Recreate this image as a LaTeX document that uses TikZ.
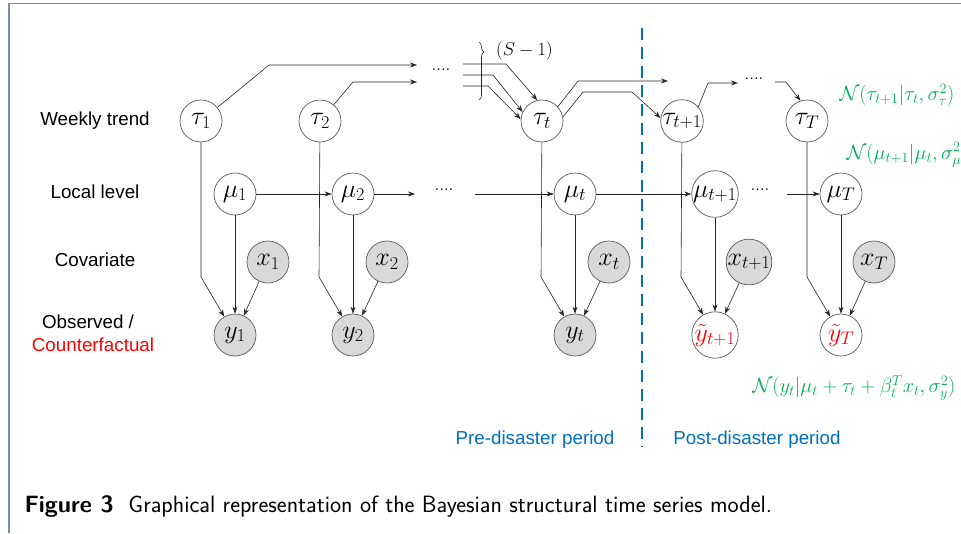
\RequirePackage{fix-cm}
\documentclass[tikz,border=0pt]{standalone}
\usepackage{fontspec}
\newfontfamily\arial{Liberation Sans}
\usetikzlibrary{arrows.meta,decorations.pathreplacing}
\definecolor{grn}{HTML}{00B050}
\definecolor{blu}{HTML}{0070C0}
\definecolor{frm}{HTML}{7A8CA8}
\begin{document}
\begin{tikzpicture}[x=1pt,y=-1pt,
  lat/.style={circle,draw=black!65,fill=white,minimum size=42pt,inner sep=0pt,line width=0.7pt,font=\fontsize{26}{28}\selectfont},
  obs/.style={lat,fill=black!15},
  arr/.style={draw=black!85,line width=0.6pt,-{Stealth[length=7pt,width=5pt]}},
  ln/.style={draw=black!85,line width=0.6pt},
  lbl/.style={font=\arial\fontsize{18.8}{22}\selectfont},
  per/.style={font=\arial\fontsize{18.8}{22}\selectfont,text=blu},
  gform/.style={text=grn,font=\fontsize{20.4}{23}\selectfont},
  dots/.style={font=\arial\fontsize{14}{16}\selectfont,inner sep=0pt}]
\useasboundingbox (0,0) rectangle (961,533);
% frame
\draw[frm,line width=1.5pt] (9,533) -- (9,3.5) -- (961,3.5);
% row labels
\node[lbl] (lw) at (95,121) {Weekly trend};
\node[lbl] (ll) at (95,192) {Local level};
\node[lbl] (lc) at (95,260) {Covariate};
\node[lbl] (lo) at (88,322) {Observed /};
\node[lbl,text=red] (lcf) at (93,345) {Counterfactual};
% tau row
\node[lat] (t1) at (201,121) {$\tau_1$};
\node[lat] (t2) at (320,121) {$\tau_2$};
\node[lat] (tt) at (542,121) {$\tau_t$};
\node[lat] (tp) at (682,121) {$\tau_{t+1}$};
\node[lat] (tT) at (807,121) {$\tau_T$};
% mu row
\node[lat] (m1) at (235,194) {$\mu_1$};
\node[lat] (m2) at (353,194) {$\mu_2$};
\node[lat] (mt) at (575,194) {$\mu_t$};
\node[lat] (mp) at (715,194) {$\mu_{t+1}$};
\node[lat] (mT) at (841,194) {$\mu_T$};
% x row
\node[obs] (x1) at (268,262) {$x_1$};
\node[obs] (x2) at (387,262) {$x_2$};
\node[obs] (xt) at (609,262) {$x_t$};
\node[obs] (xp) at (749,262) {$x_{t+1}$};
\node[obs] (xT) at (874,262) {$x_T$};
% y row
\node[obs] (y1) at (235,335) {$y_1$};
\node[obs] (y2) at (353,335) {$y_2$};
\node[obs] (yt) at (575,335) {$y_t$};
\node[lat,text=red] (yp) at (715,335) {$\tilde{y}_{t+1}$};
\node[lat,text=red] (yT) at (841,335) {$\tilde{y}_T$};
% tau -> y
\foreach \n/\m/\xx in {t1/y1/201,t2/y2/319,tt/yt/541,tp/yp/681,tT/yT/807}{
  \coordinate (k\n) at (\xx,277);
  \draw[arr] (\n) -- (k\n) -- (\m);
}
% mu -> y, x -> y
\foreach \a/\b in {m1/y1,m2/y2,mt/yt,mp/yp,mT/yT,x1/y1,x2/y2,xt/yt,xp/yp,xT/yT}{
  \draw[arr] (\a) -- (\b);
}
% mu chain
\draw[arr] (m1) -- (m2);
\coordinate (me2) at (415,194);
\draw[arr] (m2) -- (me2);
\node[dots] (md1) at (444,191) {····};
\coordinate (ms1) at (475,194);
\draw[arr] (ms1) -- (mt);
\draw[arr] (mt) -- (mp);
\node[dots] (md2) at (760,191) {····};
\coordinate (ms2) at (787,194);
\draw[arr] (ms2) -- (mT);
% tau chains
\coordinate (a1) at (269,65); \coordinate (a1e) at (417,65);
\draw[arr] (t1) -- (a1) -- (a1e);
\coordinate (a2) at (353,82); \coordinate (a2e) at (417,82);
\draw[arr] (t2) -- (a2) -- (a2e);
\node[dots] (td1) at (441,71) {····};
\coordinate (b1s) at (463,64); \coordinate (b1k) at (506,64);
\coordinate (b2s) at (463,75); \coordinate (b2k) at (493,75);
\coordinate (b3s) at (463,86); \coordinate (b3k) at (488,86);
\draw[arr] (b1s) -- (b1k) -- (tt.103);
\draw[arr] (b2s) -- (b2k) -- (tt.155);
\draw[arr] (b3s) -- (b3k) -- (tt.175);
\draw[ln,decorate,decoration={brace,amplitude=5pt,aspect=0.17}] (479,42) -- (479,100);
\node[font=\fontsize{18.5}{20}\selectfont,anchor=west,inner sep=0pt] (sm1) at (496,51) {$(S-1)$};
\coordinate (c1) at (578,81); \coordinate (c1e) at (668,81);
\draw[arr] (tt.42) -- (c1) -- (c1e);
\coordinate (c2) at (583,92); \coordinate (c2b) at (632,92);
\draw[arr] (tt.11) -- (c2) -- (c2b) -- (tp.172);
\coordinate (e1) at (708,83); \coordinate (e1e) at (738,83);
\draw[arr] (tp.41) -- (e1) -- (e1e);
\node[dots] (td2) at (754,80) {····};
\coordinate (f1) at (775,82); \coordinate (f2) at (786,82);
\draw[arr] (f1) -- (f2) -- (tT.108);
% divider
\draw[blu,line width=2.8pt,dash pattern=on 12pt off 7pt] (642,28) -- (642,447);
\node[per] (pre) at (535,440) {Pre-disaster period};
\node[per] (post) at (757,440) {Post-disaster period};
% formulas
\node[gform] (g1) at (897,95) {$\mathcal{N}(\tau_{t+1}|\tau_t,\sigma_\tau^2)$};
\node[gform,anchor=west] (g2) at (843,155) {$\mathcal{N}(\mu_{t+1}|\mu_t,\sigma_\mu^2)$};
\node[gform] (g3) at (854,388) {$\mathcal{N}(y_t|\mu_t+\tau_t+\beta_t^T x_t,\sigma_y^2)$};
% caption
\node[anchor=west,font=\sffamily\fontsize{23.6}{26}\selectfont] (cap) at (21,506) {\textbf{Figure 3}\ \ Graphical representation of the Bayesian structural time series model.};
\end{tikzpicture}
\end{document}
